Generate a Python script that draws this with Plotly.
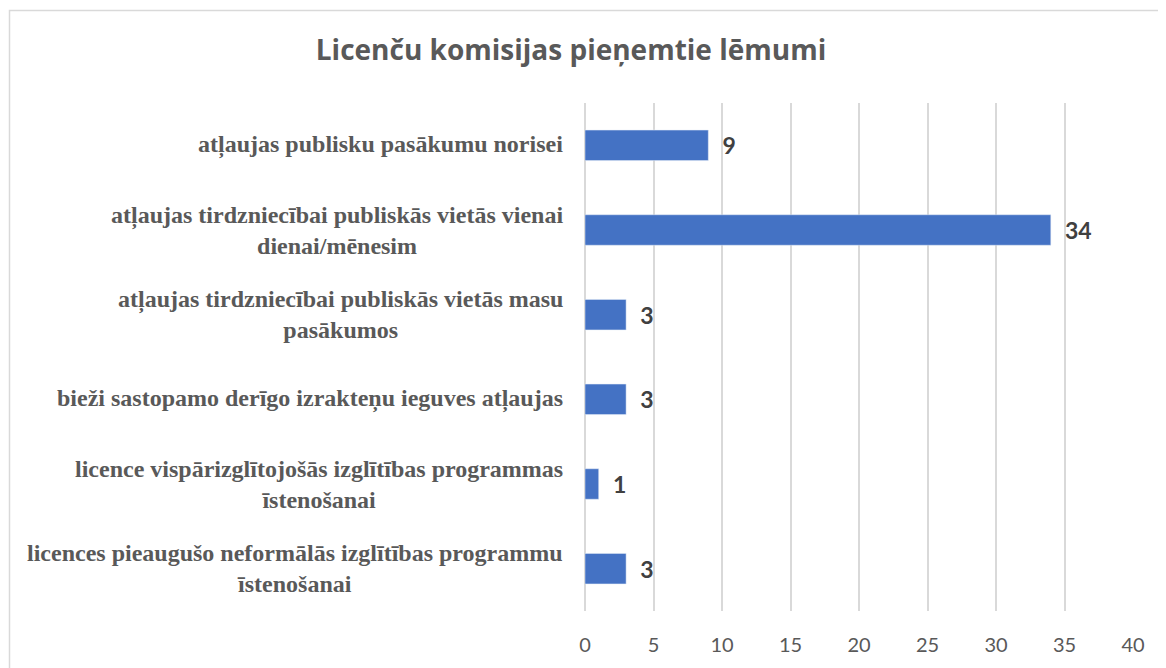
import plotly.graph_objects as go

categories = [
    "atļaujas publisku pasākumu norisei",
    "atļaujas tirdzniecībai publiskās vietās vienai<br>dienai/mēnesim",
    "atļaujas tirdzniecībai publiskās vietās masu<br>pasākumos",
    "bieži sastopamo derīgo izrakteņu ieguves atļaujas",
    "licence vispārizglītojošās izglītības programmas<br>īstenošanai",
    "licences pieaugušo neformālās izglītības programmu<br>īstenošanai",
]
values = [9, 34, 3, 3, 1, 3]
x_ticks = [0, 5, 10, 15, 20, 25, 30, 35, 40]

W, H = 1158, 660
L, T, PW, PH = 577, 95, 548, 511

fig = go.Figure()
fig.add_trace(go.Bar(
    y=categories, x=values, orientation="h",
    marker=dict(color="#4472C4"),
    width=0.36,
    text=values,
    texttemplate="\u00a0\u00a0%{x}",
    textposition="outside",
    cliponaxis=False,
    textfont=dict(family="Lato", size=23, color="#404040", weight="bold"),
))

for c in categories:
    fig.add_annotation(
        x=0, xref="paper", y=c, yref="y", text="<b>" + c + "</b>",
        showarrow=False, xanchor="right", xshift=-20, align="center",
        font=dict(family="Liberation Serif", size=24, color="#595959"),
    )

fig.add_shape(type="rect", xref="paper", yref="paper",
              x0=(1.5 - L) / PW, x1=(W + 10 - L) / PW,
              y0=-(H + 10 - T - PH) / PH, y1=(T + PH - 2) / PH,
              line=dict(color="#d9d9d9", width=1.5), layer="below")

fig.update_layout(
    width=W, height=H,
    margin=dict(l=L, r=W - L - PW, t=T, b=H - T - PH),
    paper_bgcolor="white", plot_bgcolor="white",
    showlegend=False,
    title=dict(text="<b>Licenču komisijas pieņemtie lēmumi</b>",
               x=(571 - 8) / W, xref="container", xanchor="center",
               y=1 - 42 / H, yref="container", yanchor="middle",
               font=dict(family="Open Sans", size=28, color="#595959")),
    xaxis=dict(range=[0, 40], tickvals=x_ticks, showgrid=True,
               gridcolor="#d9d9d9", gridwidth=1.5, zeroline=True,
               zerolinecolor="#d9d9d9", zerolinewidth=1.5,
               showline=False, ticks="", ticklabelstandoff=20,
               tickfont=dict(family="Lato", size=20, color="#595959")),
    yaxis=dict(autorange="reversed", showticklabels=False, showgrid=False,
               showline=False, ticks=""),
)

fig.write_html("out.html")
